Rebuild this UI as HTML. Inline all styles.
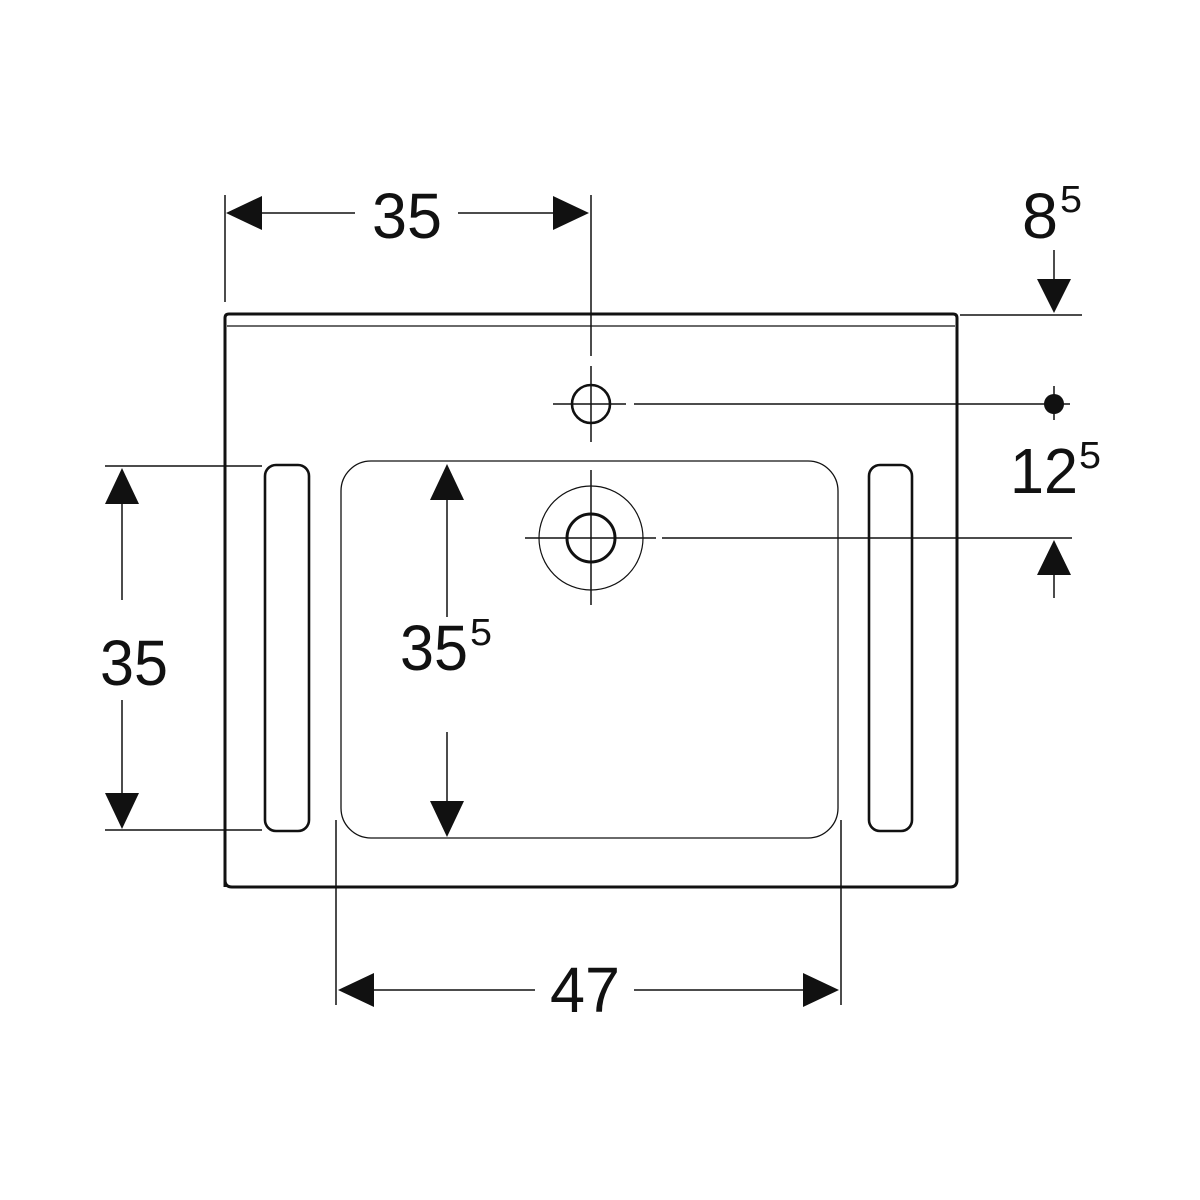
<!DOCTYPE html>
<html><head><meta charset="utf-8"><style>html,body{margin:0;padding:0;background:#fff}svg{display:block}</style></head>
<body>
<svg width="1200" height="1200" viewBox="0 0 1200 1200" xmlns="http://www.w3.org/2000/svg" font-family="'Liberation Sans Narrow','Liberation Sans',sans-serif" fill="#111">
<g fill="none" stroke="#111">
<!-- outer body -->
<path d="M225,887 V318 Q225,314 229,314 H953 Q957,314 957,318 V880 Q957,887 950,887 H232 Q225,887 225,880 Z" stroke-width="3"/>
<line x1="227" y1="326" x2="955" y2="326" stroke-width="1.2"/>
<!-- basin -->
<rect x="341" y="461" width="497" height="377" rx="30" stroke-width="1.3"/>
<!-- slots -->
<rect x="265" y="465" width="44" height="366" rx="11" stroke-width="2.6"/>
<rect x="869" y="465" width="43" height="366" rx="11" stroke-width="2.6"/>
<!-- tap hole -->
<circle cx="591" cy="404" r="19" stroke-width="2.6"/>
<!-- drain -->
<circle cx="591" cy="538" r="52" stroke-width="1.2"/>
<circle cx="591" cy="538" r="24" stroke-width="3"/>
</g>
<g stroke="#111" stroke-width="1.5" fill="none">
<!-- tap crosshair -->
<line x1="591" y1="195" x2="591" y2="356"/>
<line x1="591" y1="366" x2="591" y2="442"/>
<line x1="553" y1="404" x2="626" y2="404"/>
<line x1="634" y1="404" x2="1070" y2="404"/>
<line x1="1054" y1="386" x2="1054" y2="420"/>
<!-- drain crosshair -->
<line x1="591" y1="470" x2="591" y2="605"/>
<line x1="525" y1="538" x2="656" y2="538"/>
<line x1="662" y1="538" x2="1072" y2="538"/>
<!-- top 35 -->
<line x1="225" y1="195" x2="225" y2="302"/>
<line x1="240" y1="213" x2="355" y2="213"/>
<line x1="458" y1="213" x2="575" y2="213"/>
<!-- 8.5 -->
<line x1="960" y1="315" x2="1082" y2="315"/>
<line x1="1054" y1="250" x2="1054" y2="290"/>
<!-- 12.5 -->
<line x1="1054" y1="560" x2="1054" y2="598"/>
<!-- left 35 -->
<line x1="105" y1="466" x2="262" y2="466"/>
<line x1="105" y1="830" x2="262" y2="830"/>
<line x1="122" y1="490" x2="122" y2="600"/>
<line x1="122" y1="700" x2="122" y2="810"/>
<!-- 35.5 -->
<line x1="447" y1="490" x2="447" y2="617"/>
<line x1="447" y1="732" x2="447" y2="815"/>
<!-- 47 -->
<line x1="336" y1="820" x2="336" y2="1005"/>
<line x1="841" y1="820" x2="841" y2="1005"/>
<line x1="360" y1="990" x2="535" y2="990"/>
<line x1="634" y1="990" x2="815" y2="990"/>
</g>
<circle cx="1054" cy="404" r="10"/>
<!-- arrowheads -->
<polygon points="226,213 262,196 262,230"/>
<polygon points="589,213 553,196 553,230"/>
<polygon points="1054,313 1037,279 1071,279"/>
<polygon points="1054,540 1037,575 1071,575"/>
<polygon points="122,468 105,504 139,504"/>
<polygon points="122,829 105,793 139,793"/>
<polygon points="447,464 430,500 464,500"/>
<polygon points="447,837 430,801 464,801"/>
<polygon points="338,990 374,973 374,1007"/>
<polygon points="839,990 803,973 803,1007"/>
<!-- labels -->
<g font-size="64">
<text x="372" y="238" textLength="70" lengthAdjust="spacingAndGlyphs">35</text>
<text x="1022" y="238" textLength="36" lengthAdjust="spacingAndGlyphs">8</text>
<text x="1060" y="212" font-size="38" textLength="22" lengthAdjust="spacingAndGlyphs">5</text>
<text x="1010" y="493" textLength="68" lengthAdjust="spacingAndGlyphs">12</text>
<text x="1079" y="468" font-size="38" textLength="22" lengthAdjust="spacingAndGlyphs">5</text>
<text x="100" y="685" textLength="68" lengthAdjust="spacingAndGlyphs">35</text>
<text x="400" y="670" textLength="68" lengthAdjust="spacingAndGlyphs">35</text>
<text x="470" y="645" font-size="38" textLength="22" lengthAdjust="spacingAndGlyphs">5</text>
<text x="550" y="1012" textLength="70" lengthAdjust="spacingAndGlyphs">47</text>
</g>
</svg>
</body></html>
